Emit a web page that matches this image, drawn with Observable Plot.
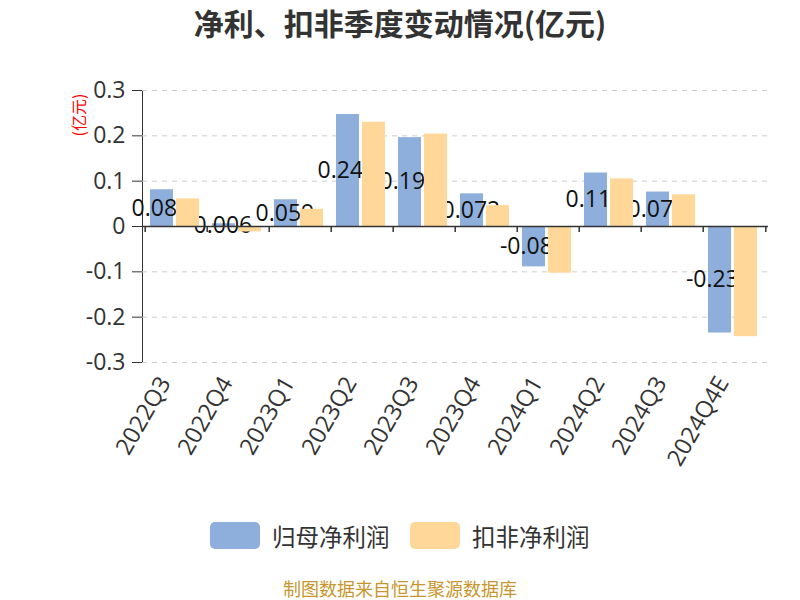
<!DOCTYPE html>
<html><head><meta charset="utf-8">
<script src="https://cdn.jsdelivr.net/npm/d3@7"></script>
<script src="https://cdn.jsdelivr.net/npm/@observablehq/plot@0.6"></script>
<style>
body{margin:0;background:#fff;font-family:"Open Sans","Noto Sans CJK SC",sans-serif;}
#wrap{position:relative;width:800px;height:600px;overflow:hidden;background:#fff}
#chart{position:absolute;left:0;top:0}
#title{position:absolute;top:1px;left:0;width:800px;text-align:center;font-size:30px;font-weight:bold;color:#333;font-family:"Noto Sans CJK SC",sans-serif;line-height:42px}
#unit{position:absolute;left:78px;top:115px;transform:translate(-50%,-50%) rotate(-90deg);color:#f00;font-size:16px;font-family:"Noto Sans CJK SC",sans-serif;white-space:nowrap;line-height:18px}
.leg{position:absolute;top:522px;height:27px;display:flex;align-items:center;font-size:23.5px;color:#333;font-family:"Noto Sans CJK SC",sans-serif}
.sw{width:50px;height:27px;border-radius:5px;margin-right:12px;flex:none}
#caption{position:absolute;top:578px;left:0;width:800px;text-align:center;font-size:18px;line-height:20px;color:#C8962E;font-family:"Noto Sans CJK SC",sans-serif}
</style></head>
<body><div id="wrap">
<div id="title"></div>
<div id="chart"></div>
<div id="unit"></div>
<div id="legend"></div>
<div id="caption"></div>
</div>
<script>
const quarters = ["2022Q3","2022Q4","2023Q1","2023Q2","2023Q3","2023Q4","2024Q1","2024Q2","2024Q3","2024Q4E"];
const netProfit = [0.081,0.006,0.059,0.247,0.196,0.072,-0.089,0.118,0.076,-0.235];
const deductedProfit = [0.061,-0.012,0.038,0.230,0.204,0.046,-0.103,0.105,0.070,-0.243];
const seriesNames = ["归母净利润","扣非净利润"];
const seriesColors = ["#8EAEDB","#FFD899"];
const yTicks = [-0.3,-0.2,-0.1,0,0.1,0.2,0.3];
const titleText = "净利、扣非季度变动情况(亿元)";
const unitText = "(亿元)";
const captionText = "制图数据来自恒生聚源数据库";

document.getElementById("title").textContent = titleText;
document.getElementById("unit").textContent = unitText;
document.getElementById("caption").textContent = captionText;
const legend = document.getElementById("legend");
const legLeft = [210, 410];
seriesNames.forEach((n,i)=>{
  const d = document.createElement("div");
  d.className="leg"; d.style.left = legLeft[i]+"px";
  d.innerHTML = `<div class="sw" style="background:${seriesColors[i]}"></div><span>${n}</span>`;
  legend.appendChild(d);
});

const blue = quarters.map((q,i)=>({q, v: netProfit[i]}));
const orange = quarters.map((q,i)=>({q, v: deductedProfit[i]}));
const fmt = d => { const r = Math.round(d*10)/10; return r === 0 ? "0" : String(r); };

const chart = Plot.plot({
  width: 800, height: 500,
  marginLeft: 142, marginRight: 32, marginTop: 90, marginBottom: 138,
  style: {fontFamily: '"Open Sans","Noto Sans CJK SC",sans-serif', fontSize: "23px", color: "#333", background: "transparent", overflow: "visible"},
  x: {domain: quarters, padding: 0, axis: null},
  y: {domain: [-0.3, 0.3], ticks: yTicks, tickFormat: fmt, tickSize: 10, tickPadding: 7, label: null, line: true},
  marks: [
    Plot.ruleY(yTicks.filter(t => t !== 0), {stroke: "#ccc", strokeDasharray: "5,5", strokeWidth: 1}),
    Plot.barY(blue, {x: "q", y: "v", fill: seriesColors[0], insetLeft: 5, insetRight: 34}),
    Plot.text(blue, {x: "q", y: d => d.v/2, text: d => String(d.v), fill: "#111", fontSize: 23, dx: -15.6}),
    Plot.barY(orange, {x: "q", y: "v", fill: seriesColors[1], insetLeft: 31, insetRight: 8}),
    Plot.ruleY([0], {stroke: "#333", strokeWidth: 1.5}),
    Plot.ruleX(quarters, {x: d => d, y1: 0, y2: 0, insetBottom: -6, dx: -31.3, stroke: "#333", strokeWidth: 1.5}),
    Plot.ruleX(quarters.slice(-1), {x: d => d, y1: 0, y2: 0, insetBottom: -6, dx: 31.3, stroke: "#333", strokeWidth: 1.5}),
    Plot.text(quarters, {x: d => d, frameAnchor: "bottom", text: d => d, rotate: -60, textAnchor: "end", dx: -5, dy: 20, fill: "#333", fontSize: 23.5})
  ]
});
document.getElementById("chart").appendChild(chart);
</script>
</body></html>
